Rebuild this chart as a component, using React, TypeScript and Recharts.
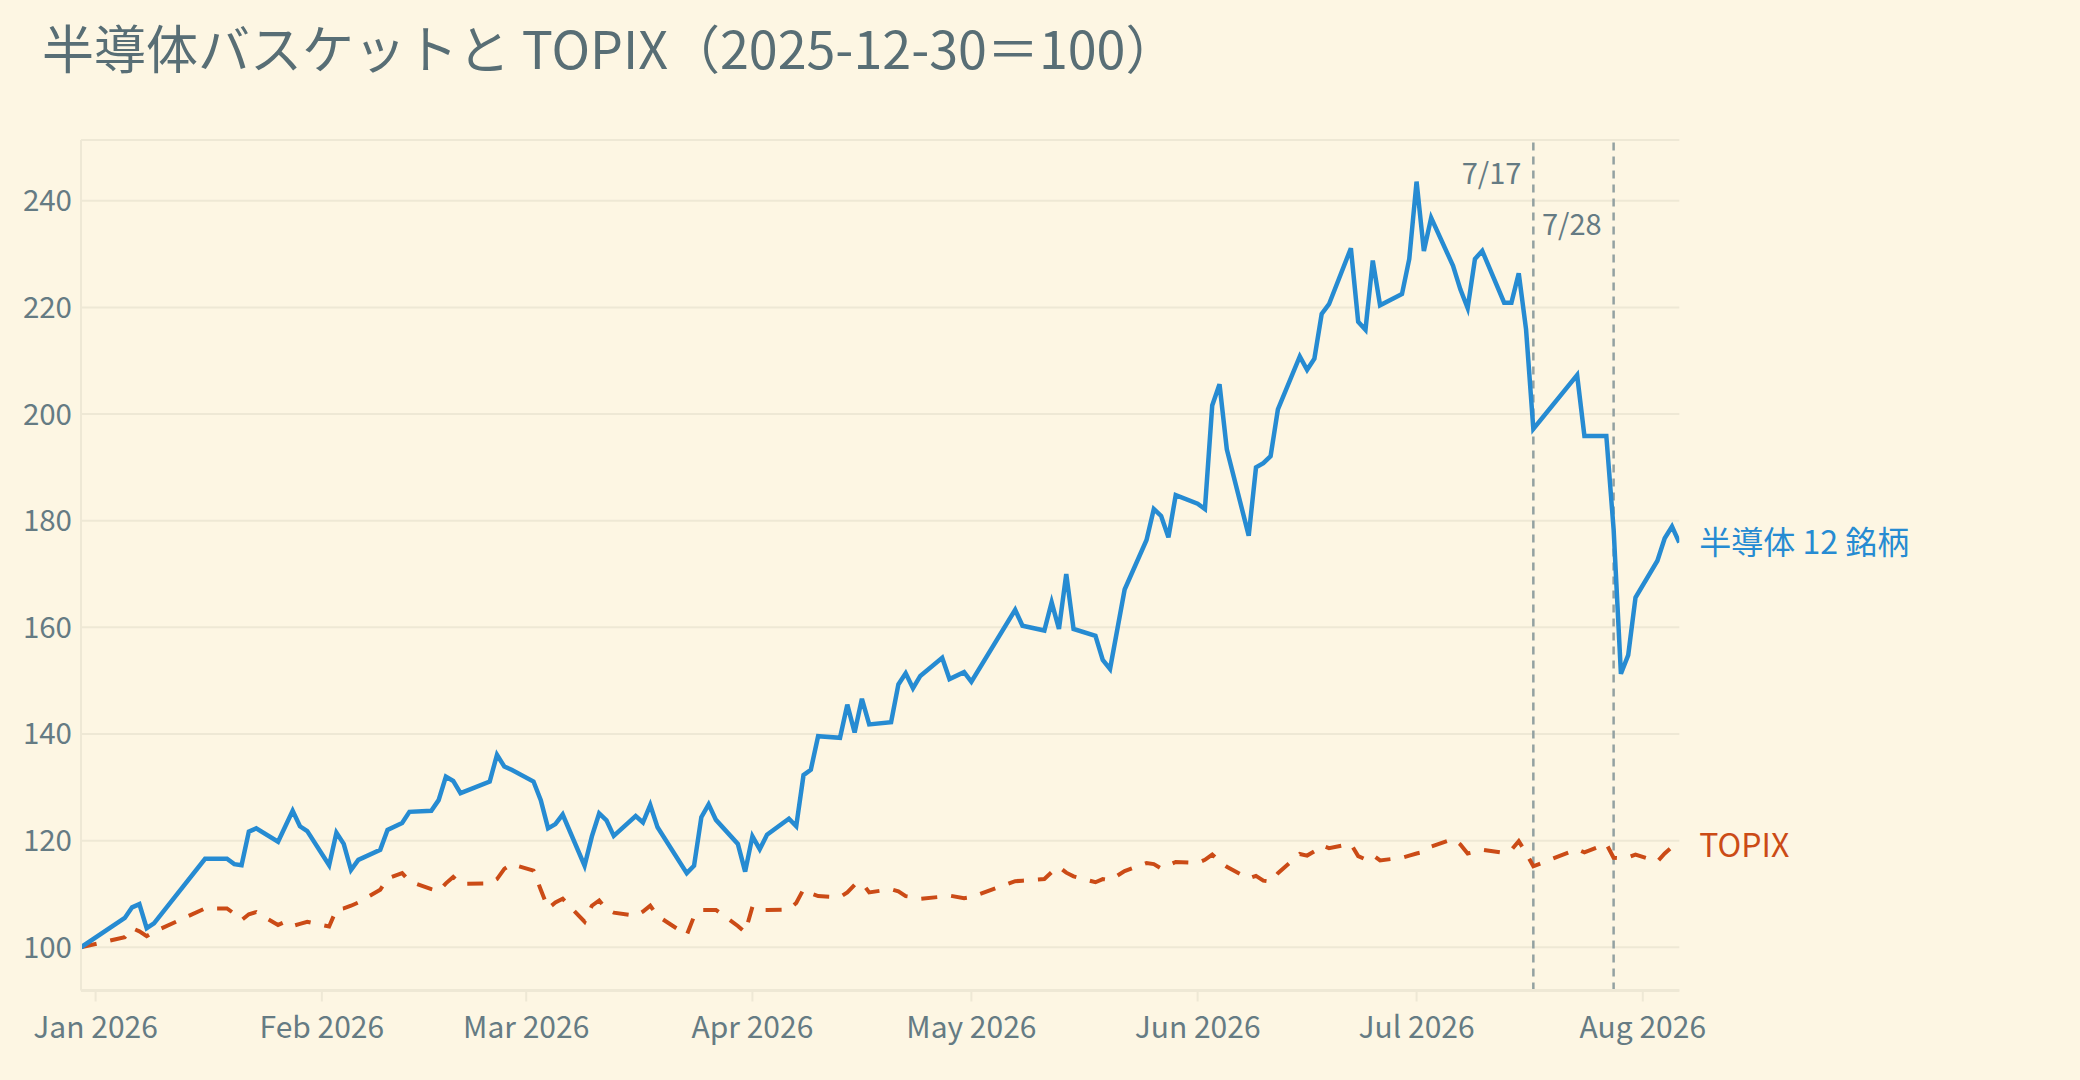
import { LineChart, Line, XAxis, YAxis, CartesianGrid, ReferenceLine, LabelList } from 'recharts';

const FONT = "'Noto Sans CJK JP', 'Noto Sans', sans-serif";

const TITLE = '半導体バスケットと TOPIX（2025-12-30＝100）';
const SEMI_NAME = '半導体 12 銘柄';
const TOPIX_NAME = 'TOPIX';

// trading days (gaps are where the line runs straight)
const DATES = [
  '2025-12-30',
  '2026-01-05', '2026-01-06', '2026-01-07', '2026-01-08', '2026-01-09', '2026-01-16', '2026-01-19', '2026-01-20',
  '2026-01-21', '2026-01-22', '2026-01-23', '2026-01-26', '2026-01-27', '2026-01-28', '2026-01-29', '2026-01-30',
  '2026-02-02', '2026-02-03', '2026-02-04', '2026-02-05', '2026-02-06', '2026-02-09', '2026-02-10', '2026-02-12',
  '2026-02-13', '2026-02-16', '2026-02-17', '2026-02-18', '2026-02-19', '2026-02-20', '2026-02-24', '2026-02-25',
  '2026-02-26', '2026-02-27',
  '2026-03-02', '2026-03-03', '2026-03-04', '2026-03-05', '2026-03-06', '2026-03-09', '2026-03-10', '2026-03-11',
  '2026-03-12', '2026-03-13', '2026-03-16', '2026-03-17', '2026-03-18', '2026-03-19', '2026-03-23', '2026-03-24',
  '2026-03-25', '2026-03-26', '2026-03-27', '2026-03-30', '2026-03-31',
  '2026-04-01', '2026-04-02', '2026-04-03', '2026-04-06', '2026-04-07', '2026-04-08', '2026-04-09', '2026-04-10',
  '2026-04-13', '2026-04-14', '2026-04-15', '2026-04-16', '2026-04-17', '2026-04-20', '2026-04-21', '2026-04-22',
  '2026-04-23', '2026-04-24', '2026-04-27', '2026-04-28', '2026-04-30',
  '2026-05-01', '2026-05-07', '2026-05-08', '2026-05-11', '2026-05-12', '2026-05-13', '2026-05-14', '2026-05-15',
  '2026-05-18', '2026-05-19', '2026-05-20', '2026-05-22', '2026-05-25', '2026-05-26', '2026-05-27', '2026-05-28',
  '2026-05-29',
  '2026-06-01', '2026-06-02', '2026-06-03', '2026-06-04', '2026-06-05', '2026-06-08', '2026-06-09', '2026-06-10',
  '2026-06-11', '2026-06-12', '2026-06-15', '2026-06-16', '2026-06-17', '2026-06-18', '2026-06-19', '2026-06-22',
  '2026-06-23', '2026-06-24', '2026-06-25', '2026-06-26', '2026-06-29', '2026-06-30',
  '2026-07-01', '2026-07-02', '2026-07-03', '2026-07-06', '2026-07-07', '2026-07-08', '2026-07-09', '2026-07-10',
  '2026-07-13', '2026-07-14', '2026-07-15', '2026-07-16', '2026-07-17', '2026-07-23', '2026-07-24', '2026-07-27',
  '2026-07-28', '2026-07-29', '2026-07-30', '2026-07-31',
  '2026-08-03', '2026-08-04', '2026-08-05', '2026-08-06',
];

const SEMI = [
  100,
  105.5, 107.5, 108.1, 103.6, 104.5, 116.6, 116.6, 115.6,
  115.4, 121.7, 122.3, 119.8, 122.7, 125.6, 122.7, 121.8,
  115.4, 121.5, 119.4, 114.5, 116.4, 118.3, 122.0, 123.3,
  125.4, 125.6, 127.6, 132.0, 131.2, 128.9, 131.1, 136.1,
  133.9, 133.3,
  131.1, 127.6, 122.3, 123.1, 124.9, 115.3, 120.8, 125.1,
  123.8, 120.9, 124.6, 123.4, 126.7, 122.5, 113.9, 115.3,
  124.4, 126.8, 123.9, 119.4, 114.2,
  120.8, 118.4, 121.1, 124.1, 122.7, 132.3, 133.3, 139.6,
  139.3, 145.5, 140.3, 146.6, 141.8, 142.2, 149.3, 151.4,
  148.6, 150.9, 154.3, 150.3, 151.6,
  149.8, 163.3, 160.3, 159.4, 164.7, 159.7, 170.0, 159.7,
  158.4, 153.9, 152.2, 167.1, 176.4, 182.2, 180.9, 176.9,
  184.8,
  183.2, 182.2, 201.6, 205.6, 193.4, 177.2, 190.0, 190.8,
  192.1, 200.9, 210.8, 208.3, 210.4, 218.8, 220.6, 231.1,
  217.3, 215.8, 228.8, 220.4, 222.5, 229.1,
  243.6, 230.6, 236.8, 227.8, 223.4, 219.9, 229.1, 230.6,
  220.9, 220.9, 226.4, 215.9, 197.2, 207.3, 195.9, 195.9,
  178.4, 151.3, 154.8, 165.6,
  172.5, 176.7, 178.9, 175.9,
];

const TOPIX = [
  100,
  101.9, 103.6, 103.0, 102.1, 102.9, 107.3, 107.3, 106.3,
  105.1, 106.2, 106.6, 104.2, 104.8, 104.0, 104.4, 104.8,
  103.9, 107.1, 107.3, 107.8, 108.4, 110.8, 112.9, 113.9,
  112.4, 110.9, 110.5, 112.0, 113.2, 111.9, 112.0, 112.8,
  114.7, 115.6,
  114.4, 110.8, 107.3, 108.4, 109.1, 104.8, 107.8, 108.8,
  107.1, 106.5, 105.9, 106.7, 107.8, 105.9, 102.3, 105.8,
  107.0, 107.0, 107.0, 104.0, 102.8,
  107.6, 107.0, 107.0, 107.1, 108.3, 110.9, 110.1, 109.6,
  109.4, 110.3, 111.7, 112.1, 110.3, 110.9, 110.5, 109.6,
  109.4, 109.1, 109.5, 109.7, 109.2,
  109.4, 112.4, 112.5, 112.8, 114.1, 115.1, 114.0, 113.3,
  112.2, 112.8, 112.6, 114.3, 115.8, 115.6, 114.8, 115.4,
  116.0,
  115.8, 116.4, 117.4, 116.1, 115.1, 112.9, 113.4, 112.5,
  112.3, 113.9, 117.5, 117.2, 118.0, 119.1, 118.6, 119.4,
  117.1, 116.5, 117.3, 116.3, 116.8, 117.2,
  117.6, 117.9, 118.9, 120.3, 119.3, 117.6, 117.9, 118.3,
  117.7, 118.3, 119.9, 117.7, 115.2, 118.4, 117.8, 119.4,
  116.8, 116.7, 116.9, 117.4,
  116.1, 117.6, 118.8, 119.1,
];

const MONTH_TICKS = ['2026-01-01', '2026-02-01', '2026-03-01', '2026-04-01', '2026-05-01', '2026-06-01', '2026-07-01', '2026-08-01'];
const MONTH_LABELS = ['Jan 2026', 'Feb 2026', 'Mar 2026', 'Apr 2026', 'May 2026', 'Jun 2026', 'Jul 2026', 'Aug 2026'];
const Y_TICKS = [100, 120, 140, 160, 180, 200, 220, 240];

const EVENTS = [
  { date: '2026-07-17', label: '7/17', labelY: 174 },
  { date: '2026-07-28', label: '7/28', labelY: 225 },
];

const toTs = (s: string) => {
  const [y, m, d] = s.split('-').map(Number);
  return Date.UTC(y, m - 1, d);
};

const rows = DATES.map((d, i) => ({ t: toTs(d), semi: SEMI[i], topix: TOPIX[i] }));
const tickTs = MONTH_TICKS.map(toTs);
const lastIndex = rows.length - 1;

const BLUE = '#268bd2';
const ORANGE = '#cb4b16';
const GRID = '#eee8d5';
const TEXT = '#657b83';

function EventLabel({ viewBox, text, cy }: any) {
  if (!viewBox) return null;
  return (
    <text x={viewBox.x - 12} y={cy} dy="0.35em" textAnchor="end" fill={TEXT} fontSize={29} fontFamily={FONT}>
      {text}
    </text>
  );
}

const endLabel = (name: string, color: string) => (props: any) => {
  if (props.index !== lastIndex) return null;
  return (
    <text x={props.x + 20} y={props.y} dy="0.35em" fill={color} fontSize={32} fontFamily={FONT}>
      {name}
    </text>
  );
};

export default function App() {
  return (
    <div style={{ position: 'fixed', left: 0, top: 0, width: 2080, height: 1080, background: '#fdf6e3', fontFamily: FONT }}>
      <div
        style={{
          position: 'absolute',
          left: 42,
          top: 21,
          fontSize: 52,
          lineHeight: '52px',
          color: '#586e75',
          whiteSpace: 'nowrap',
        }}
      >
        {TITLE}
      </div>
      <LineChart
        width={2080}
        height={1080}
        data={rows}
        margin={{ top: 140, right: 400.7, bottom: 0, left: 0 }}
        style={{ position: 'absolute', left: 0, top: 0 }}
      >
        <CartesianGrid vertical={false} stroke={GRID} strokeWidth={2} />
        <XAxis
          dataKey="t"
          type="number"
          domain={[toTs('2025-12-30'), toTs('2026-08-06')]}
          ticks={tickTs}
          interval={0}
          tickFormatter={(v: number) => MONTH_LABELS[tickTs.indexOf(v)] ?? ''}
          height={89.5}
          axisLine={{ stroke: GRID, strokeWidth: 3 }}
          tickLine={{ stroke: GRID, strokeWidth: 2 }}
          tickSize={11}
          tickMargin={15}
          tick={{ fill: TEXT, fontSize: 30, fontFamily: FONT }}
          allowDataOverflow
        />
        <YAxis
          type="number"
          domain={[91.9, 251.4]}
          ticks={Y_TICKS}
          interval={0}
          width={81}
          axisLine={{ stroke: GRID, strokeWidth: 2 }}
          tickLine={false}
          tickSize={0}
          tickMargin={9}
          tick={{ fill: TEXT, fontSize: 29.5, fontFamily: FONT }}
          allowDataOverflow
        />
        {EVENTS.map((e) => (
          <ReferenceLine
            key={e.date}
            x={toTs(e.date)}
            stroke="#93a1a1"
            strokeWidth={2.5}
            strokeDasharray="8 6"
            label={<EventLabel text={e.label} cy={e.labelY} />}
          />
        ))}
        <Line
          dataKey="topix"
          type="linear"
          stroke={ORANGE}
          strokeWidth={4}
          strokeDasharray="16 14"
          dot={false}
          activeDot={false}
          isAnimationActive={false}
        >
          <LabelList dataKey="topix" content={endLabel(TOPIX_NAME, ORANGE)} />
        </Line>
        <Line
          dataKey="semi"
          type="linear"
          stroke={BLUE}
          strokeWidth={4.5}
          dot={false}
          activeDot={false}
          isAnimationActive={false}
        >
          <LabelList dataKey="semi" content={endLabel(SEMI_NAME, BLUE)} />
        </Line>
      </LineChart>
    </div>
  );
}
